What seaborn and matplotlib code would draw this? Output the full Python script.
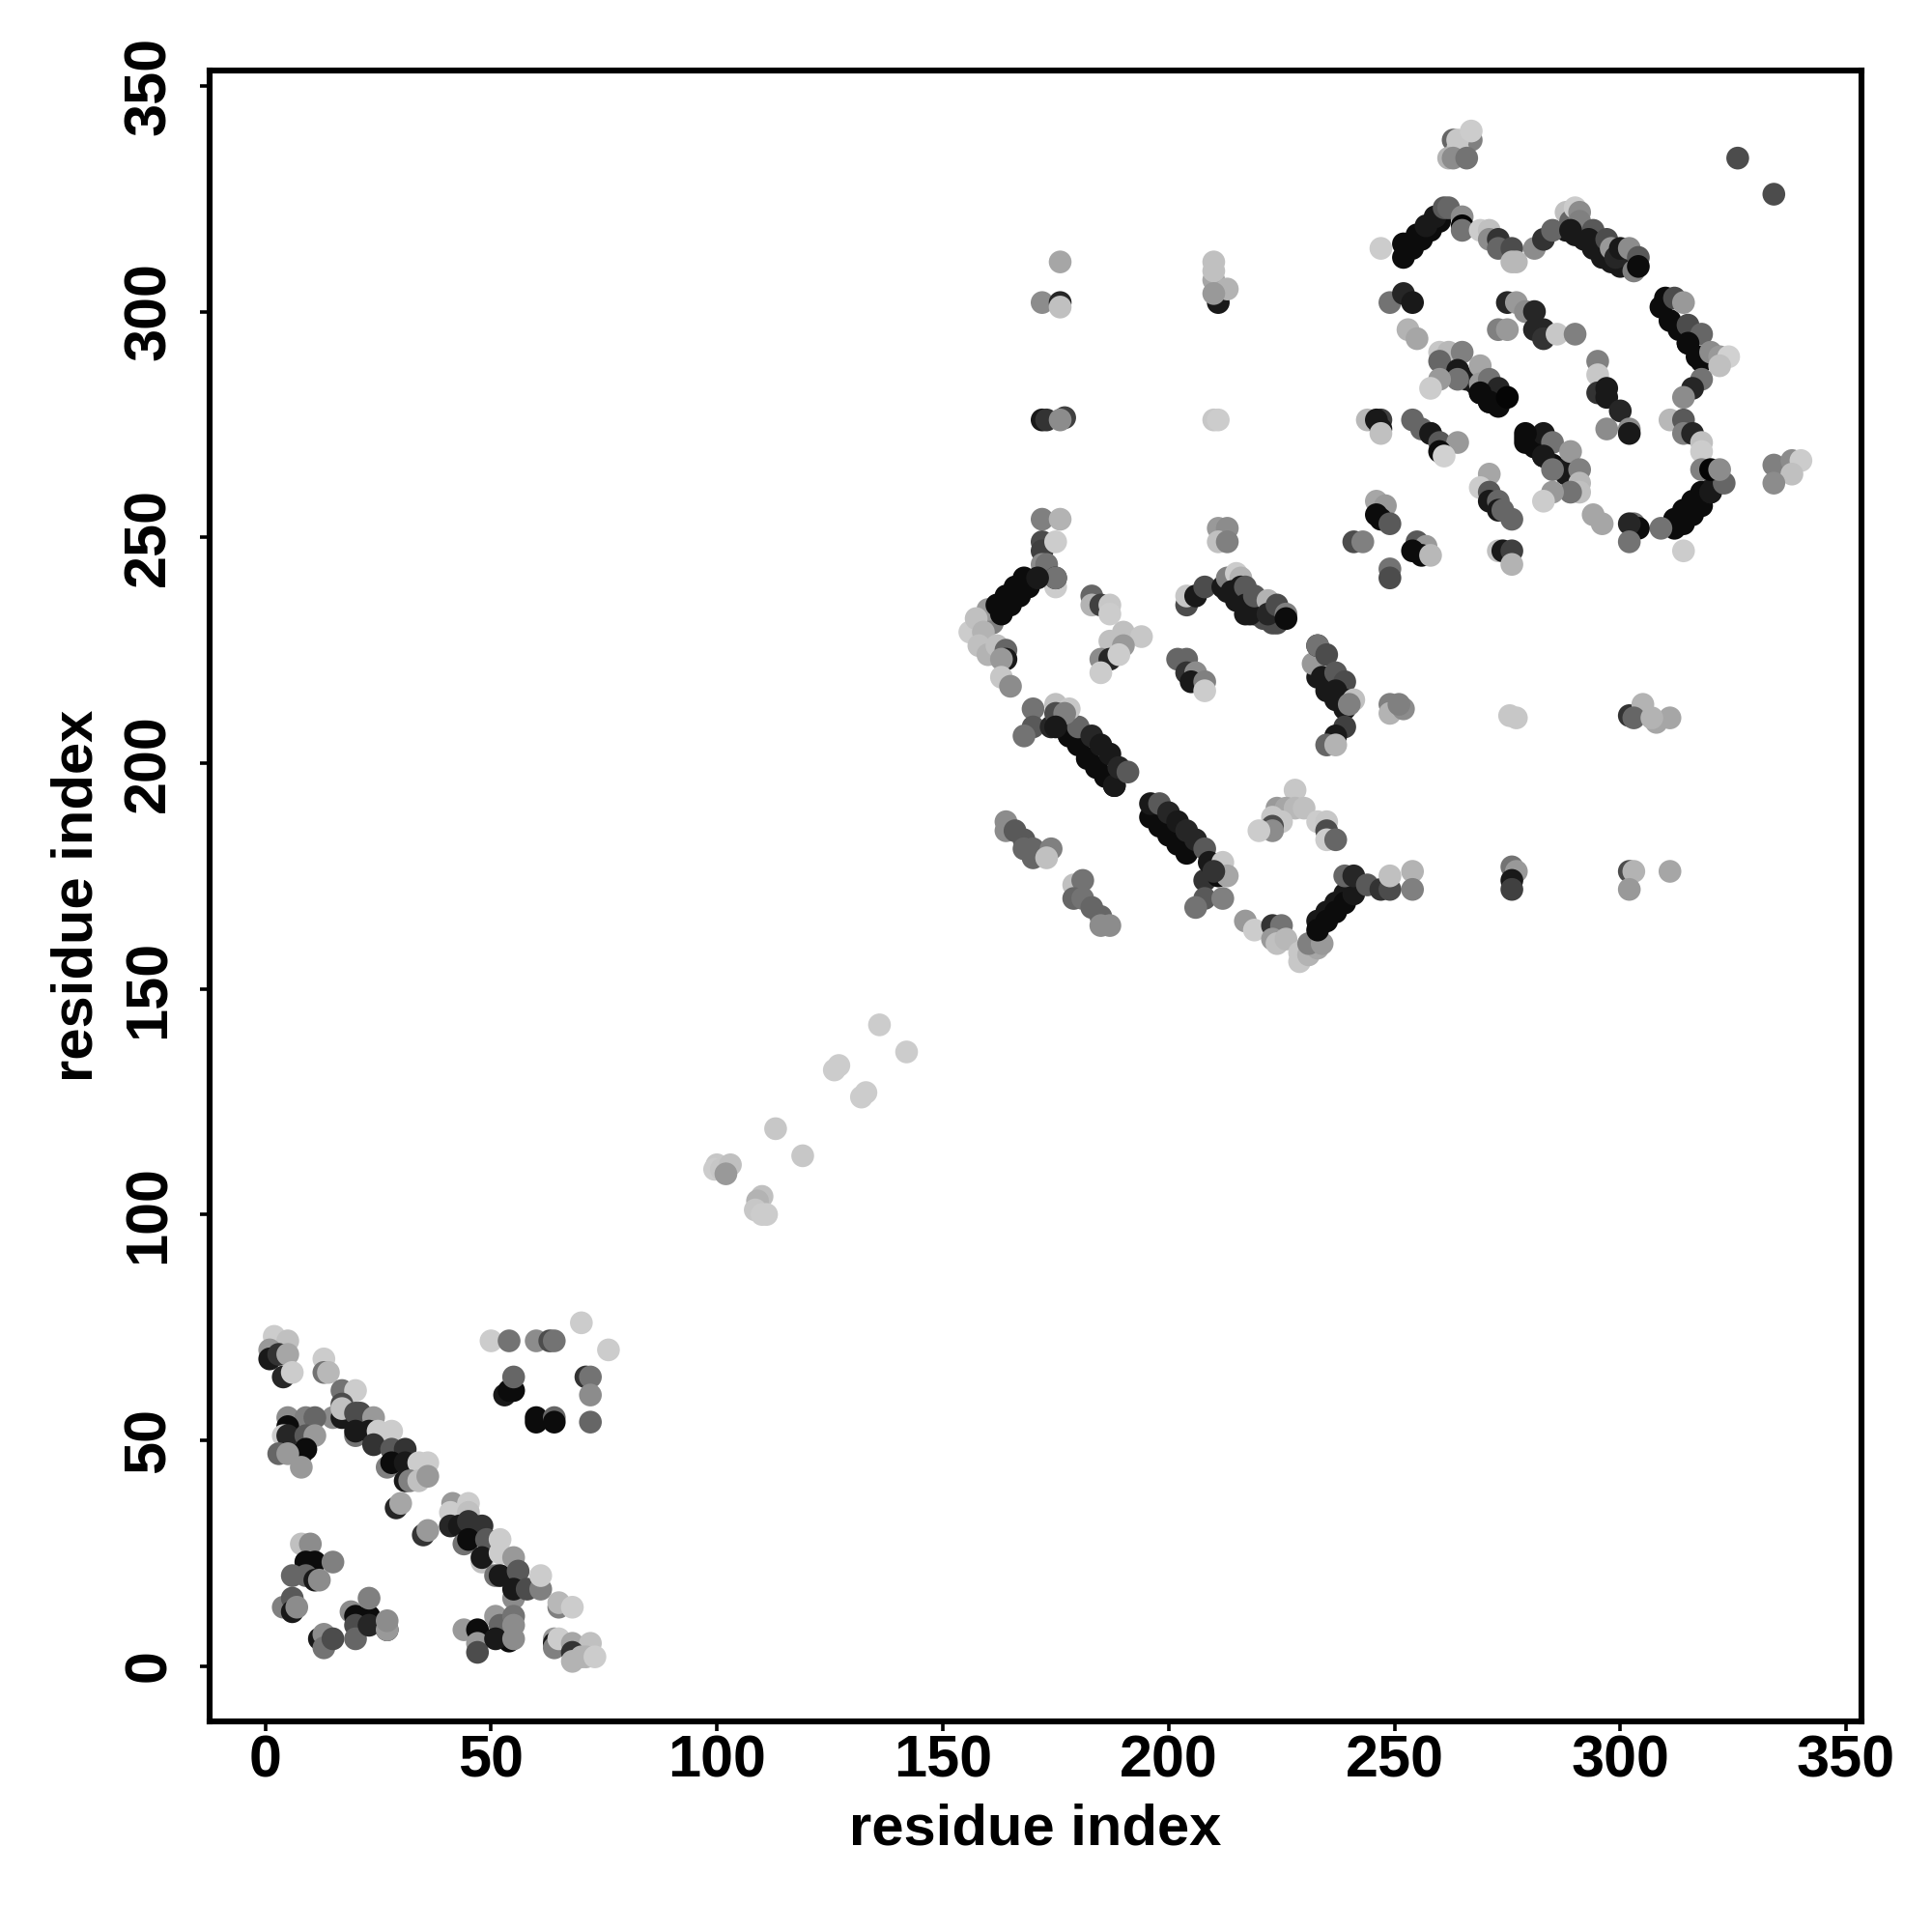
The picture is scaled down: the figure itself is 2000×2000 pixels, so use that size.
import numpy as np
import pandas as pd
import matplotlib
matplotlib.use("Agg")
import matplotlib.pyplot as plt
import seaborn as sns

# dark strand dots that sit underneath the others
under_i = [178,180,182,184,186,188,
           309,311,313,315,317,233,235,237,239,279,281,283,285,288,
           213,215,217,219,221,223,224,288,290,292,294,296,298,300,302,
           269,271,273,264,266,268,210]
under_j = [206,204,201,199,197,195,
           301,298,296,293,290,219,216,214,212,272,270,268,266,264,
           238,236,233,233,232,231,231,318,317,316,314,312,311,310,310,
           282,280,279,287,285,284,276]
under_g = [.05,.05,.05,.05,.05,.05,
           .05,.05,.05,.05,.05,.1,.1,.1,.1,.05,.05,.05,.05,.1,
           .1,.1,.1,.1,.3,.3,.3,.1,.1,.1,.1,.1,.1,.1,.1,
           .05,.05,.05,.1,.1,.1,.78]

# contacts: residue i, residue j, grey level of the dot
low_i = [2,5,1,1,3,5,4,6,13,13,14,17,20,17,15,17,17,20,21,24,20,20,23,25,28,24,28,31,27,28,31,34,36,31,32,34,36,29,30,35,36,
         41.5,45,41,45,41,43,45,48,44,45,49,52,48,48,52,51,52,55,56,55,55,58,61,61,65,65,68,64,64,64,65,68,72,68,68,70,71,73]
low_j = [73,72,70,68,69,69,64,65,68,65,65,61,61,58,55,55,57,56,56,55,51,52,52,52,52,49,48,48,44,45,45,45,45,41,41,41,42,35,36,29,30,
         36,36,34,34,31,31,32,31,27,28,28,28,23,24,25,20,20,24,21,15,17,17,17,20,13,14,13,6,5,4,6,5,5,3,1,2,2,2]
low_g = [.8,.75,.6,.1,.2,.65,.15,.8,.8,.45,.72,.45,.8,.3,.55,.1,.75,.3,.3,.6,.45,.1,.1,.8,.8,.2,.35,.2,.5,.05,.1,.8,.8,.1,.5,.75,.6,.15,.65,.2,.6,
         .6,.8,.8,.75,.15,.1,.2,.2,.45,.05,.35,.8,.75,.1,.8,.45,.1,.6,.35,.55,.1,.3,.5,.8,.5,.72,.8,.6,.1,.5,.8,.65,.75,.2,.7,.7,.7,.8]

side_i = [5,9,11,5,4,5,9,11,8,9,3,5,8,8,10,9,11,15,6,9,11,12,4,6,6,7,12,13,13,15,19,20,23,23,20,20,23,27,27,27,
          44,47,47,47,51,52,54,51,55,55,55,
          53,54,55,55,60,60,64,64,71,72,72,72,50,54,60,63,64,70,76]
side_j = [55,55,55,53,51,51,51,51,47,48,47,47,44,27,27,23,23,23,20,20,19,19,13,15,12,13,6,7,4,6,12,11,11,15,9,6,9,8,8,10,
          8,8,5,3,11,9,5.5,6,11,9,6,
          60,61,61,64,54,55,55,54,64,64,60,54,72,72,72,72,72,76,70]
side_g = [.55,.5,.4,.05,.8,.15,.35,.6,.05,.05,.4,.6,.6,.75,.55,.05,.05,.5,.4,.4,.1,.55,.5,.35,.1,.55,.1,.55,.45,.3,.55,.05,.05,.5,.3,.4,.15,.1,.6,.55,
          .6,.05,.6,.3,.6,.4,.05,.1,.45,.55,.55,
          .1,.05,.05,.4,.05,.05,.4,.05,.2,.45,.55,.4,.8,.45,.55,.3,.45,.8,.8]

mid_i = [136,142,127,126,133,132,113,119,100,99.5,101,103,102,110,109,108.5,110,111]
mid_j = [142,136,133,132,127,126,119,113,111,110,110,111,109,104,103,101,100,100]
mid_g = [.8,.8,.8,.8,.8,.8,.78,.78,.78,.8,.78,.75,.6,.75,.7,.78,.8,.8]

strand_i = [172,176,172,172,175,172,173,175,175,175,161,160,162,164,166,168,163,165,167,169,171,
            156,157.4,159,158,160,162,164,164,163,163,165,
            183,183,185,187,187,190,194,188,187,185,187,190,189,185,
            211,213,211,213,204,204,206,208,212,213,215,216,214,216,217,217,218,219,222,222,224,226,226,
            202,204,204,206,205,208,208,
            232,233,233,235,234,237,239,237,239,241,240,239,237,235,237,
            249,249,252,251,254,254,
            170,170,168,174,178,180,183,185,187,188,189,191,175,178,175,177,175]
strand_j = [254,254,249,247,249,244,244,239,241,241,231,234,235,237,239,241,233,235,237,239,241,
            229,232,229,226,224,226,225,223,223,219,217,
            237,235,235,235,233,229,228,226,227,223,223,226,224,220,
            252,252,249,249,235,237,237,239,239,241,242,241,238,239,239,235,233,237,236,233,235,233,232,
            223,223,220,220,218,218,216,
            222,226,226,224,219,220,218,216,214,214,213,208,206,204,204,
            213,211,212,213,176,172,
            212,208,206,208,206,208,206,204,202,195,199,198,213,212,211,211,208]
strand_g = [.5,.7,.3,.25,.8,.55,.45,.8,.15,.45,.5,.6,.05,.05,.05,.05,.05,.05,.05,.05,.1,
            .8,.75,.7,.75,.7,.75,.4,.1,.6,.78,.55,
            .4,.7,.25,.78,.8,.75,.78,.75,.75,.55,.15,.6,.8,.8,
            .6,.55,.75,.5,.3,.78,.1,.3,.1,.5,.8,.7,.1,.1,.35,.1,.1,.35,.7,.15,.3,.5,.05,
            .4,.4,.2,.55,.1,.5,.8,
            .6,.1,.45,.3,.1,.35,.3,.1,.1,.75,.5,.25,.1,.4,.7,
            .5,.7,.55,.5,.7,.5,
            .45,.35,.45,.15,.05,.4,.15,.1,.1,.1,.15,.35,.75,.78,.3,.5,.1]

strand2_i = [196,198,200,202,204,196,198,200,202,204,206,208,208,209,212,211,213,210,208,206,212,
             164,164,166,168,168,170,170,174,173,179,181,179,181,183,185,185,187,
             228,224,226,228,230,223,225,223,223,220,233,235,235,235,237,
             217,219,223,225,223,224,226,229,229,231,233,231,234,
             233,235,237,239,233,235,237,239,241,239,241,244,247,249,249]
strand2_j = [188,186,184,182,180,191,191,189,187,185,183,181,174,178,178,175,175,176,170,168,170,
             187,185,185,183,181,181,179,181,179,173,174,170,170,168,166,164,164,
             194,190,190,190,190,188,187,186,185,185,187,187,185,183,183,
             165,163,164,164,161,160,161,156,158,157.5,159,160,160,
             165,167,169,171,163,165,167,169,171,175,175,173,172,172,175]
strand2_g = [.05,.05,.05,.05,.05,.1,.35,.15,.1,.15,.15,.35,.2,.1,.78,.05,.65,.2,.35,.45,.5,
             .55,.55,.35,.35,.4,.4,.4,.5,.75,.75,.45,.4,.45,.4,.4,.55,.55,
             .78,.6,.65,.72,.75,.78,.78,.3,.55,.8,.8,.78,.3,.8,.4,
             .6,.8,.2,.45,.6,.75,.72,.78,.78,.7,.65,.5,.6,
             .1,.1,.1,.1,.05,.05,.05,.05,.1,.4,.15,.35,.2,.3,.75]

up_i = [267,263,264,267,264,262,263,266,326,334,
        252,254,256,258,260,252,253,255,257,259,261,262,265,265,265,247,
        269,271,271,273,273,276,276,277,281,283,285,
        288,289,290,291,291,294,289,293,295,297,298,299,300,302,303,304,304,
        249,252,254,253,255,275,277,279,281,281,283,283,286,290,273,275,
        260,262,265,260,269,264,264,260,258,269,271,273,269,271,275,
        295,295,295,297,297,300,302,302,297,
        310,312,314,315,318,315,318,320,322,324,322,318,316,314,
        311,314,314,316,318,318,
        312,314,316,318,320,312,314,316,318,320,321,323,318,320,322,309,314,
        294,296,334,338,340,338,334,303,304,302,302]
up_j = [338,338,338,340,336,334,334,334,334,326,
        312,314,316,318,320,315,315,317,319,321,323,323,321,319,318,314,
        318,318,316,316,314,314,311,311,314,316,318,
        322,320,323,322,320,318,318,316,314,316,314,312,314,314,309,312,310,
        302,304,302,296,294,302,302,300,300,296,296,294,295,295,296,296,
        291,291,291,289,288,287,285,285,283,284,285,283,282,280,281,
        289,286,282,283,281,278,274,273,274,
        303,303,302,297,295,293,289,291,290,290,288,285,283,281,
        276,276,273,273,271,269,
        252,253,255,257,260,254,256,258,260,260,262,262,265,265,265,252,247,
        255,253,266,267,267,264,262,253,252,253,249]
up_g = [.5,.4,.78,.8,.78,.7,.55,.45,.3,.3,
        .05,.05,.05,.05,.05,.05,.05,.05,.1,.1,.35,.4,.55,.02,.45,.8,
        .8,.75,.55,.2,.4,.3,.72,.72,.55,.2,.4,
        .75,.4,.8,.55,.5,.35,.1,.1,.1,.3,.6,.15,.1,.55,.5,.35,.05,
        .45,.15,.1,.7,.65,.15,.6,.55,.15,.15,.15,.2,.78,.5,.5,.6,
        .78,.72,.5,.4,.65,.1,.45,.6,.8,.6,.45,.15,.05,.05,.02,
        .5,.78,.2,.1,.1,.15,.55,.1,.55,
        .05,.3,.6,.3,.4,.05,.05,.55,.6,.82,.75,.45,.15,.55,
        .72,.35,.5,.15,.75,.8,
        .05,.05,.05,.05,.1,.05,.05,.05,.05,.1,.1,.4,.5,.02,.55,.45,.8,
        .65,.65,.5,.55,.8,.75,.55,.45,.05,.15,.45]

low2_i = [279,283,279,285,283,288,289,291,285,291,291,289,285,283,
          271,269,271,271,273,273,274,276,
          254,256,258,258,260,264,260,261,244,247,246,247,247,
          246,248,246,247,249,241,243,255,257,254,256,258,273,274,276,276,249,249]
low2_j = [271,273,273,271,268,265,269,265,265,262,260,260,260,258,
          264,261,260,258,258,256,256,254,
          276,274,273,273,271,271,269,268,276,276,276,274,273,
          258,257,255,254,253,249,249,249,248,247,246,246,247,247,247,244,243,241]
low2_g = [.05,.1,.05,.45,.1,.1,.6,.5,.45,.72,.75,.45,.6,.8,
          .65,.8,.35,.1,.4,.1,.4,.4,
          .4,.4,.35,.1,.35,.6,.05,.82,.72,.25,.1,.1,.75,
          .65,.6,.05,.05,.35,.3,.5,.35,.6,.05,.05,.72,.75,.1,.25,.7,.45,.3]

far_i = [176,172,176,176,172,173,177,176,210,210,210,211,213,210,211,
         275.5,277,302,305,303,308,311,307,276,277,276,276,302,303,302,311]
far_j = [311,302,302,301,276,276,276.5,276,311,307,309,302,305,304,276,
         210.5,210,210.5,213,210,209,210,210,177,176,174,172,176,176,172,176]
far_g = [.65,.55,.15,.75,.1,.2,.25,.55,.75,.65,.75,.1,.7,.6,.8,
         .78,.78,.2,.7,.4,.65,.65,.7,.45,.6,.1,.25,.3,.7,.6,.65]

ticks = [0, 50, 100, 150, 200, 250, 300, 350]

contacts = pd.DataFrame({
    "i": under_i + low_i + side_i + mid_i + strand_i + strand2_i + up_i + low2_i + far_i,
    "j": under_j + low_j + side_j + mid_j + strand_j + strand2_j + up_j + low2_j + far_j,
    "shade": under_g + low_g + side_g + mid_g + strand_g + strand2_g + up_g + low2_g + far_g,
})

sns.set_theme(style="ticks")
plt.rcParams["font.family"] = ["Liberation Sans", "DejaVu Sans"]
plt.rcParams["font.weight"] = "bold"

fig, ax = plt.subplots(figsize=(10, 10), dpi=200)
fig.subplots_adjust(left=0.1085, right=0.9635, top=0.9635, bottom=0.109)
sns.scatterplot(data=contacts, x="i", y="j", hue="shade", palette="gray", hue_norm=(0, 1),
                s=72, linewidth=0, legend=False, ax=ax)

ax.set_xlim(-12.3, 353.4)
ax.set_ylim(-12.3, 353.4)
ax.set_xticks(ticks)
ax.set_yticks(ticks)
ax.tick_params(axis="both", labelsize=22, width=1.3, length=3.5, color="black", labelcolor="black")
ax.tick_params(axis="x", pad=1.5)
ax.tick_params(axis="y", pad=8.5)
plt.setp(ax.get_yticklabels(), rotation=90, va="center")
ax.set_xlabel("residue index", fontsize=21.5, fontweight="bold", labelpad=5, color="black")
ax.set_ylabel("residue index", fontsize=21.5, fontweight="bold", labelpad=7, color="black")
for spine in ax.spines.values():
    spine.set_visible(True)
    spine.set_linewidth(2.2)
    spine.set_color("black")

fig.savefig("out.png", dpi=200)
